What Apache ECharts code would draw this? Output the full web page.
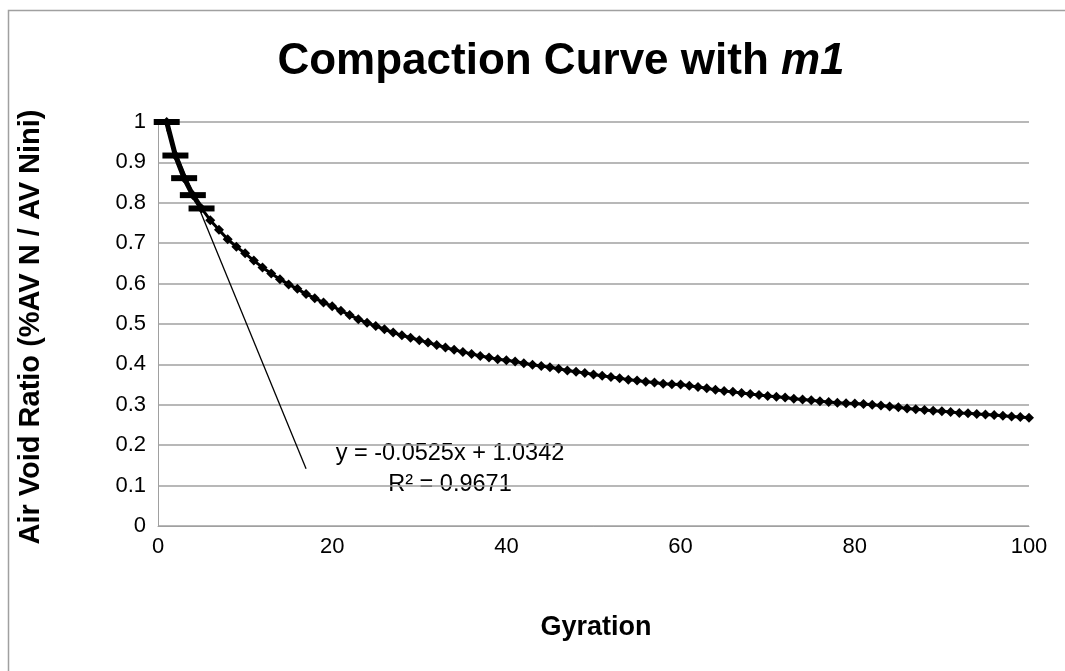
<!DOCTYPE html>
<html>
<head>
<meta charset="utf-8">
<script src="https://cdn.jsdelivr.net/npm/echarts@6/dist/echarts.min.js"></script>
<style>html,body{margin:0;padding:0;background:#fff}#c{width:1065px;height:671px}</style>
</head>
<body>
<div id="c"></div>
<script>
// Gyration numbers (x) for the compaction curve
const gyrations = [];
for (let i = 1; i <= 100; i++) gyrations.push(i);
// Air void ratio values, one per gyration 1..100
const airVoidRatio = [
  1.000, 0.917, 0.861, 0.819, 0.786, 0.757, 0.733, 0.710, 0.691, 0.675,
  0.657, 0.640, 0.625, 0.611, 0.598, 0.587, 0.574, 0.564, 0.553, 0.544,
  0.533, 0.522, 0.512, 0.503, 0.495, 0.487, 0.479, 0.472, 0.466, 0.460,
  0.454, 0.448, 0.442, 0.436, 0.431, 0.426, 0.421, 0.417, 0.413, 0.410,
  0.407, 0.403, 0.399, 0.396, 0.393, 0.389, 0.385, 0.382, 0.379, 0.375,
  0.372, 0.369, 0.366, 0.362, 0.360, 0.357, 0.355, 0.352, 0.351, 0.350,
  0.347, 0.344, 0.341, 0.337, 0.334, 0.332, 0.329, 0.327, 0.324, 0.322,
  0.320, 0.318, 0.315, 0.313, 0.311, 0.309, 0.307, 0.305, 0.304, 0.303,
  0.302, 0.300, 0.298, 0.296, 0.294, 0.291, 0.289, 0.287, 0.285, 0.284,
  0.282, 0.280, 0.279, 0.277, 0.276, 0.275, 0.273, 0.271, 0.270, 0.268
];
// First five points used for the linear fit (dash markers)
const fitGyrations = [1, 2, 3, 4, 5];
const fitValues = [1.000, 0.917, 0.861, 0.819, 0.786];
// Trendline y = -0.0525x + 1.0342, endpoints
const trendX = [1, 17];
const trendY = [0.9817, 0.1417];
const xTicks = [0, 20, 40, 60, 80, 100];
const yTicks = [0, 0.1, 0.2, 0.3, 0.4, 0.5, 0.6, 0.7, 0.8, 0.9, 1];
const titleMain = 'Compaction Curve with ';
const titleItalic = 'm1';
const xName = 'Gyration';
const yName = 'Air Void Ratio (%AV N / AV Nini)';
const eqText = 'y = -0.0525x + 1.0342';
const r2Text = 'R² = 0.9671';

const FONT = 'Liberation Sans';
const chart = echarts.init(document.getElementById('c'), null, {renderer: 'canvas'});
const curveData = gyrations.map((g, i) => [g, airVoidRatio[i]]);
const fitData = fitGyrations.map((g, i) => [g, fitValues[i]]);
const trendData = trendX.map((g, i) => [g, trendY[i]]);

chart.setOption({
  animation: false,
  backgroundColor: '#ffffff',
  grid: {left: 158, right: 36, top: 122, bottom: 145, containLabel: false},
  xAxis: {
    type: 'value', min: xTicks[0], max: xTicks[xTicks.length - 1], interval: 20,
    axisLine: {show: true, lineStyle: {color: '#a0a0a0', width: 1}},
    axisTick: {show: false},
    splitLine: {show: false},
    axisLabel: {color: '#000', fontFamily: FONT, fontSize: 22, margin: 10}
  },
  yAxis: {
    type: 'value', min: yTicks[0], max: yTicks[yTicks.length - 1], interval: 0.1,
    axisLine: {show: true, lineStyle: {color: '#a0a0a0', width: 1}},
    axisTick: {show: false},
    splitLine: {show: true, lineStyle: {color: '#a0a0a0', width: 1.5}},
    axisLabel: {color: '#000', fontFamily: FONT, fontSize: 22, margin: 12,
      formatter: v => String(Math.round(v * 10) / 10)}
  },
  series: [
    {
      type: 'line', data: curveData, symbol: 'diamond', symbolSize: [10, 10],
      showSymbol: true, itemStyle: {color: '#000'},
      lineStyle: {color: '#000', width: 3}, z: 3
    },
    {
      type: 'line', data: trendData, symbol: 'none',
      lineStyle: {color: '#000', width: 1.3}, z: 4
    },
    {
      type: 'line', data: fitData, symbol: 'rect', symbolSize: [26, 6],
      itemStyle: {color: '#000'}, lineStyle: {color: '#000', width: 5}, z: 5
    }
  ],
  graphic: [
    {type: 'rect', silent: true, shape: {x: 8.5, y: 10.5, width: 1100, height: 700},
      style: {fill: 'none', stroke: '#a0a0a0', lineWidth: 1.5}},
    {type: 'text', x: 561, y: 62, style: {
      text: '{b|' + titleMain + '}{i|' + titleItalic + '}',
      textAlign: 'center', textVerticalAlign: 'middle',
      rich: {
        b: {fontFamily: FONT, fontWeight: 'bold', fontSize: 44, fill: '#000'},
        i: {fontFamily: FONT, fontWeight: 'bold', fontStyle: 'italic', fontSize: 44, fill: '#000'}
      }}},
    {type: 'text', x: 596, y: 628, style: {text: xName, fontFamily: FONT, fontWeight: 'bold',
      fontSize: 27, fill: '#000', textAlign: 'center', textVerticalAlign: 'middle'}},
    {type: 'text', x: 31, y: 327, rotation: Math.PI / 2, style: {text: yName, fontFamily: FONT,
      fontWeight: 'bold', fontSize: 29, fill: '#000', textAlign: 'center', textVerticalAlign: 'middle'}},
    {type: 'text', x: 450, y: 454, style: {text: eqText, fontFamily: FONT, fontSize: 23.5,
      fill: '#000', textAlign: 'center', textVerticalAlign: 'middle'}},
    {type: 'text', x: 450, y: 485, style: {text: r2Text, fontFamily: FONT, fontSize: 23.5,
      fill: '#000', textAlign: 'center', textVerticalAlign: 'middle'}}
  ]
});
</script>
</body>
</html>
